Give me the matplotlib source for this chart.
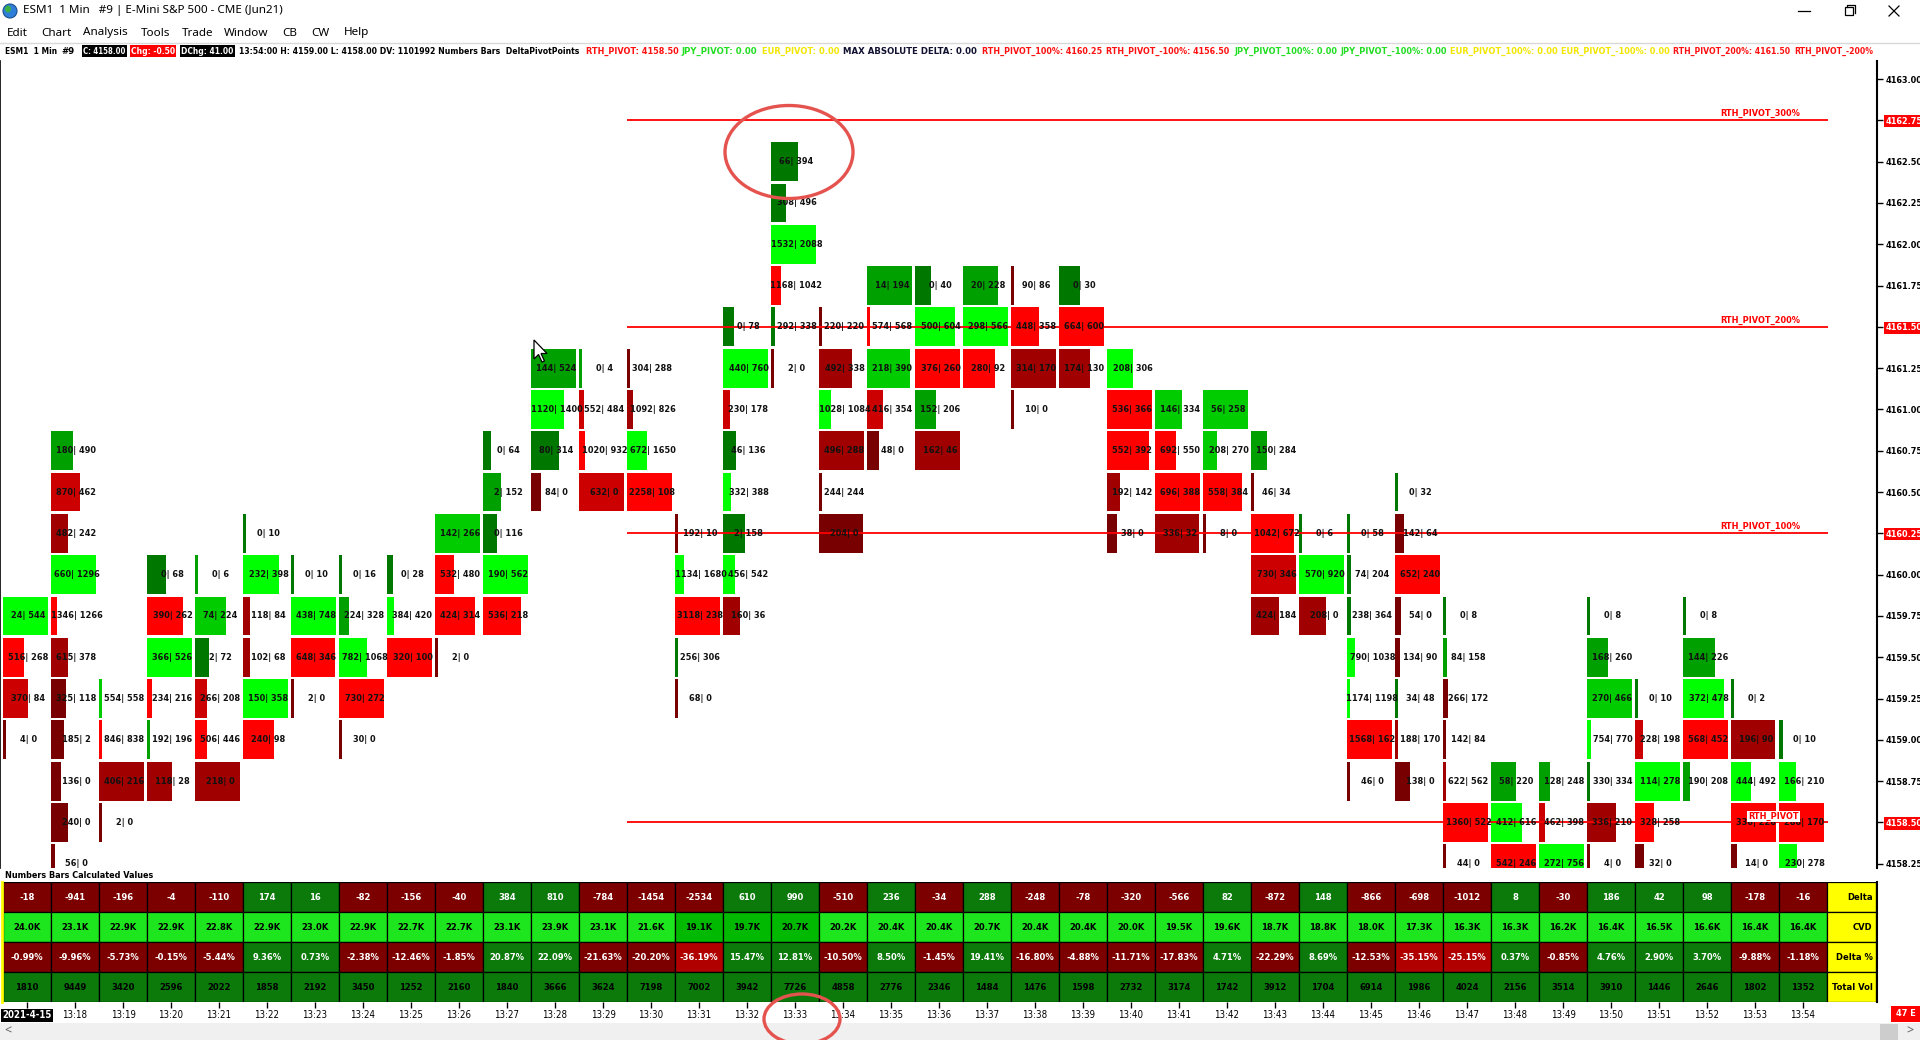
import matplotlib
matplotlib.use("Agg")
import matplotlib.pyplot as plt
from matplotlib.patches import Rectangle, Ellipse, Circle, Polygon
from matplotlib import font_manager

# ---------------- data ----------------
times = ['2021-4-15', '13:18', '13:19', '13:20', '13:21', '13:22', '13:23', '13:24', '13:25',
         '13:26', '13:27', '13:28', '13:29', '13:30', '13:31', '13:32', '13:33', '13:34',
         '13:35', '13:36', '13:37', '13:38', '13:39', '13:40', '13:41', '13:42', '13:43',
         '13:44', '13:45', '13:46', '13:47', '13:48', '13:49', '13:50', '13:51', '13:52',
         '13:53', '13:54']

# footprint cells per minute: (price, bid, ask, shade level 1=bright .. 4=dark)
m1317 = [(4159.75, 24, 544, 1), (4159.50, 516, 268, 1), (4159.25, 370, 84, 2), (4159.00, 4, 0, 4)]
m1318 = [(4160.75, 180, 490, 3), (4160.50, 870, 462, 2), (4160.25, 482, 242, 3), (4160.00, 660, 1296, 1),
         (4159.75, 1346, 1266, 1), (4159.50, 615, 378, 3), (4159.25, 325, 118, 4), (4159.00, 185, 2, 4),
         (4158.75, 136, 0, 4), (4158.50, 240, 0, 4), (4158.25, 56, 0, 4)]
m1319 = [(4159.25, 554, 558, 2), (4159.00, 846, 838, 1), (4158.75, 406, 216, 3), (4158.50, 2, 0, 4)]
m1320 = [(4160.00, 0, 68, 4), (4159.75, 390, 262, 1), (4159.50, 366, 526, 1), (4159.25, 234, 216, 1),
         (4159.00, 192, 196, 3), (4158.75, 118, 28, 3)]
m1321 = [(4160.00, 0, 6, 3), (4159.75, 74, 224, 2), (4159.50, 2, 72, 4), (4159.25, 266, 208, 2),
         (4159.00, 506, 446, 1), (4158.75, 218, 0, 3)]
m1322 = [(4160.25, 0, 10, 4), (4160.00, 232, 398, 1), (4159.75, 118, 84, 3), (4159.50, 102, 68, 3),
         (4159.25, 150, 358, 1), (4159.00, 240, 98, 1)]
m1323 = [(4160.00, 0, 10, 4), (4159.75, 438, 748, 1), (4159.50, 648, 346, 1), (4159.25, 2, 0, 4)]
m1324 = [(4160.00, 0, 16, 4), (4159.75, 224, 328, 3), (4159.50, 782, 1068, 1), (4159.25, 730, 272, 1),
         (4159.00, 30, 0, 4)]
m1325 = [(4160.00, 0, 28, 4), (4159.75, 384, 420, 1), (4159.50, 320, 100, 1)]
m1326 = [(4160.25, 142, 266, 2), (4160.00, 532, 480, 1), (4159.75, 424, 314, 1), (4159.50, 2, 0, 4)]
m1327 = [(4160.75, 0, 64, 4), (4160.50, 2, 152, 3), (4160.25, 0, 116, 4), (4160.00, 190, 562, 1),
         (4159.75, 536, 218, 1)]
m1328 = [(4161.25, 144, 524, 3), (4161.00, 1120, 1400, 1), (4160.75, 80, 314, 4), (4160.50, 84, 0, 4)]
m1329 = [(4161.25, 0, 4, 3), (4161.00, 552, 484, 2), (4160.75, 1020, 932, 1), (4160.50, 632, 0, 2)]
m1330 = [(4161.25, 304, 288, 4), (4161.00, 1092, 826, 3), (4160.75, 672, 1650, 1), (4160.50, 2258, 108, 1)]
m1331 = [(4160.25, 192, 10, 4), (4160.00, 1134, 1680, 1), (4159.75, 3118, 238, 1), (4159.50, 256, 306, 4),
         (4159.25, 68, 0, 4)]
m1332 = [(4161.50, 0, 78, 4), (4161.25, 440, 760, 1), (4161.00, 230, 178, 2), (4160.75, 46, 136, 4),
         (4160.50, 332, 388, 1), (4160.25, 2, 158, 4), (4160.00, 456, 542, 1), (4159.75, 160, 36, 3)]
m1333 = [(4162.50, 66, 394, 4), (4162.25, 308, 496, 4), (4162.00, 1532, 2088, 1), (4161.75, 1168, 1042, 1),
         (4161.50, 292, 338, 4), (4161.25, 2, 0, 4)]
m1334 = [(4161.50, 220, 220, 4), (4161.25, 492, 338, 3), (4161.00, 1028, 1084, 1), (4160.75, 496, 288, 3),
         (4160.50, 244, 244, 4), (4160.25, 204, 0, 4)]
m1335 = [(4161.75, 14, 194, 3), (4161.50, 574, 568, 1), (4161.25, 218, 390, 2), (4161.00, 416, 354, 2),
         (4160.75, 48, 0, 4)]
m1336 = [(4161.75, 0, 40, 4), (4161.50, 500, 604, 1), (4161.25, 376, 260, 1), (4161.00, 152, 206, 3),
         (4160.75, 162, 46, 3)]
m1337 = [(4161.75, 20, 228, 3), (4161.50, 298, 566, 1), (4161.25, 280, 92, 1)]
m1338 = [(4161.75, 90, 86, 4), (4161.50, 448, 358, 1), (4161.25, 314, 170, 3), (4161.00, 10, 0, 4)]
m1339 = [(4161.75, 0, 30, 4), (4161.50, 664, 600, 1), (4161.25, 174, 130, 3)]
m1340 = [(4161.25, 208, 306, 1), (4161.00, 536, 366, 1), (4160.75, 552, 392, 1), (4160.50, 192, 142, 3),
         (4160.25, 38, 0, 4)]
m1341 = [(4161.00, 146, 334, 2), (4160.75, 692, 550, 1), (4160.50, 696, 388, 1), (4160.25, 336, 32, 3)]
m1342 = [(4161.00, 56, 258, 2), (4160.75, 208, 270, 2), (4160.50, 558, 384, 1), (4160.25, 8, 0, 4)]
m1343 = [(4160.75, 150, 284, 3), (4160.50, 46, 34, 4), (4160.25, 1042, 672, 1), (4160.00, 730, 346, 2),
         (4159.75, 424, 184, 3)]
m1344 = [(4160.25, 0, 6, 4), (4160.00, 570, 920, 1), (4159.75, 208, 0, 3)]
m1345 = [(4160.25, 0, 58, 4), (4160.00, 74, 204, 4), (4159.75, 238, 364, 4), (4159.50, 790, 1038, 1),
         (4159.25, 1174, 1198, 1), (4159.00, 1568, 162, 1), (4158.75, 46, 0, 4)]
m1346 = [(4160.50, 0, 32, 4), (4160.25, 142, 64, 4), (4160.00, 652, 240, 1), (4159.75, 54, 0, 4),
         (4159.50, 134, 90, 4), (4159.25, 34, 48, 4), (4159.00, 188, 170, 3), (4158.75, 138, 0, 4)]
m1347 = [(4159.75, 0, 8, 4), (4159.50, 84, 158, 3), (4159.25, 266, 172, 4), (4159.00, 142, 84, 4),
         (4158.75, 622, 562, 3), (4158.50, 1360, 522, 1), (4158.25, 44, 0, 4)]
m1348 = [(4158.75, 58, 220, 3), (4158.50, 412, 616, 1), (4158.25, 542, 246, 1)]
m1349 = [(4158.75, 128, 248, 3), (4158.50, 462, 398, 2), (4158.25, 272, 756, 1)]
m1350 = [(4159.75, 0, 8, 4), (4159.50, 168, 260, 3), (4159.25, 270, 466, 2), (4159.00, 754, 770, 1),
         (4158.75, 330, 334, 4), (4158.50, 336, 210, 3), (4158.25, 4, 0, 4)]
m1351 = [(4159.25, 0, 10, 4), (4159.00, 228, 198, 2), (4158.75, 114, 278, 1), (4158.50, 328, 258, 1),
         (4158.25, 32, 0, 4)]
m1352 = [(4159.75, 0, 8, 4), (4159.50, 144, 226, 3), (4159.25, 372, 478, 1), (4159.00, 568, 452, 1),
         (4158.75, 190, 208, 3)]
m1353 = [(4159.25, 0, 2, 4), (4159.00, 196, 90, 3), (4158.75, 444, 492, 1), (4158.50, 336, 228, 1),
         (4158.25, 14, 0, 4)]
m1354 = [(4159.00, 0, 10, 4), (4158.75, 166, 210, 1), (4158.50, 288, 170, 1), (4158.25, 230, 278, 1)]

footprint = [m1317, m1318, m1319, m1320, m1321, m1322, m1323, m1324, m1325, m1326, m1327, m1328,
             m1329, m1330, m1331, m1332, m1333, m1334, m1335, m1336, m1337, m1338, m1339, m1340,
             m1341, m1342, m1343, m1344, m1345, m1346, m1347, m1348, m1349, m1350, m1351, m1352,
             m1353, m1354]

delta = [-18, -941, -196, -4, -110, 174, 16, -82, -156, -40, 384, 810, -784, -1454, -2534, 610, 990,
         -510, 236, -34, 288, -248, -78, -320, -566, 82, -872, 148, -866, -698, -1012, 8, -30, 186,
         42, 98, -178, -16]
cvd_k = [24.0, 23.1, 22.9, 22.9, 22.8, 22.9, 23.0, 22.9, 22.7, 22.7, 23.1, 23.9, 23.1, 21.6, 19.1,
         19.7, 20.7, 20.2, 20.4, 20.4, 20.7, 20.4, 20.4, 20.0, 19.5, 19.6, 18.7, 18.8, 18.0, 17.3,
         16.3, 16.3, 16.2, 16.4, 16.5, 16.6, 16.4, 16.4]
cvd_dark_cols = [14, 15, 16]
delta_pct = [-0.99, -9.96, -5.73, -0.15, -5.44, 9.36, 0.73, -2.38, -12.46, -1.85, 20.87, 22.09,
             -21.63, -20.20, -36.19, 15.47, 12.81, -10.50, 8.50, -1.45, 19.41, -16.80, -4.88,
             -11.71, -17.83, 4.71, -22.29, 8.69, -12.53, -35.15, -25.15, 0.37, -0.85, 4.76, 2.90,
             3.70, -9.88, -1.18]
total_vol = [1810, 9449, 3420, 2596, 2022, 1858, 2192, 3450, 1252, 2160, 1840, 3666, 3624, 7198,
             7002, 3942, 7726, 4858, 2776, 2346, 1484, 1476, 1598, 2732, 3174, 1742, 3912, 1704,
             6914, 1986, 4024, 2156, 3514, 3910, 1446, 2646, 1802, 1352]
row_names = ['Delta', 'CVD', 'Delta %', 'Total Vol']

price_levels = [4158.25, 4158.50, 4158.75, 4159.00, 4159.25, 4159.50, 4159.75, 4160.00, 4160.25,
                4160.50, 4160.75, 4161.00, 4161.25, 4161.50, 4161.75, 4162.00, 4162.25, 4162.50,
                4162.75, 4163.00]
pivot_names = ['RTH_PIVOT_300%', 'RTH_PIVOT_200%', 'RTH_PIVOT_100%', 'RTH_PIVOT']
pivot_values = [4162.75, 4161.50, 4160.25, 4158.50]
pivot_first_col = 13

# ---------------- styling ----------------
W, H, DPI = 1920, 1040, 100
names = {f.name for f in font_manager.fontManager.ttflist}
if 'Liberation Sans Narrow' in names:
    NARROW, FS, STRETCH = 'Liberation Sans Narrow', 1.0, 'normal'
elif 'DejaVu Sans Condensed' in names:
    NARROW, FS, STRETCH = 'DejaVu Sans Condensed', 0.8, 'condensed'
else:
    NARROW, FS, STRETCH = 'DejaVu Sans', 0.72, 'condensed'
UI = 'Noto Sans' if 'Noto Sans' in names else 'DejaVu Sans'

GREENS = {1: '#00FF00', 2: '#00CC00', 3: '#00A000', 4: '#007800'}
REDS = {1: '#FF0000', 2: '#CC0000', 3: '#A00000', 4: '#780000'}
PIVOT_RED = '#FF0000'

fig = plt.figure(figsize=(W / DPI, H / DPI), dpi=DPI, facecolor='white')


def px_axes(x0, y0, x1, y1, **kw):
    return fig.add_axes([x0 / W, 1 - y1 / H, (x1 - x0) / W, (y1 - y0) / H], **kw)


# column/price geometry of the screen
COLW, X0 = 48.0, 27.0       # px per column, px centre of first column
ROWH, Y0 = 41.3, 79.0       # px per 0.25 tick, px of 4163.00
TOP_PRICE = 4163.00


def col_at(xpx):
    return (xpx - X0) / COLW


def price_at(ypx):
    return TOP_PRICE - (ypx - Y0) / ROWH * 0.25


# ---------------- footprint panel ----------------
fp = px_axes(0, 61, 1877, 868)
fp.set_facecolor('white')
fp.set_xlim(col_at(0), col_at(1877))
fp.set_ylim(price_at(868), price_at(61))
cell_h = 0.25 * (ROWH - 2.5) / ROWH
full_w = 45.0 / COLW
for i, col in enumerate(footprint):
    maxd = max(abs(a - b) for _, b, a, _ in col)
    for price, b, a, s in col:
        d = a - b
        w = max(0.065, abs(d) / maxd if maxd else 0) * full_w
        colr = GREENS[s] if d > 0 else REDS[s]
        fp.add_patch(Rectangle((i - 0.5, price - cell_h / 2), w, cell_h, facecolor=colr,
                               edgecolor='none', zorder=2))
        fp.text(i + 0.03, price, f'{b}| {a}', ha='center', va='center', fontsize=9.2 * FS,
                family=NARROW, fontstretch=STRETCH, fontweight='bold', color='#111111',
                zorder=4, clip_on=True)

# pivot lines
line_end = col_at(1828)
for name, val in zip(pivot_names, pivot_values):
    fp.hlines(val, pivot_first_col - 0.5, line_end, color=PIVOT_RED, lw=1.3, zorder=3)
    if name == 'RTH_PIVOT':
        fp.text(36.38, val + 0.035, name, ha='center', va='center', fontsize=9.2 * FS,
                family=NARROW, fontstretch=STRETCH, fontweight='bold', color=PIVOT_RED, zorder=5,
                bbox=dict(boxstyle='square,pad=0.12', fc='white', ec='none'))
    else:
        fp.text(col_at(1800), val + 0.012, name, ha='right', va='bottom', fontsize=9.2 * FS,
                family=NARROW, fontstretch=STRETCH, fontweight='bold', color=PIVOT_RED, zorder=5)

# price axis on the right
fp.yaxis.tick_right()
fp.set_yticks(price_levels)
fp.set_yticklabels([f'{p:.2f}' for p in price_levels])
fp.tick_params(axis='y', length=4, width=1, pad=2, colors='black')
fp.tick_params(axis='x', bottom=False, labelbottom=False)
for lab, p in zip(fp.get_yticklabels(), price_levels):
    lab.set_fontfamily(NARROW)
    lab.set_fontstretch(STRETCH)
    lab.set_fontweight('bold')
    lab.set_fontsize(9.0 * FS)
    if p in pivot_values:
        lab.set_color('white')
        lab.set_bbox(dict(boxstyle='square,pad=0.18', fc='#FF0000', ec='none'))
for side in ('top', 'bottom'):
    fp.spines[side].set_visible(False)
fp.spines['left'].set_color('black')
fp.spines['left'].set_linewidth(1.2)
fp.spines['right'].set_color('black')
fp.spines['right'].set_linewidth(1.5)

# ---------------- calculated values table ----------------
tb = px_axes(0, 882, 1877, 1002)
tb.set_facecolor('white')
tb.set_xlim(col_at(0), col_at(1877))
tb.set_ylim(4, 0)
POS, NEG = '#0B7A0B', '#7D0000'
for i in range(len(times)):
    vals = [
        (f'{delta[i]}', POS if delta[i] > 0 else NEG, 'white'),
        (f'{cvd_k[i]:.1f}K', '#00B900' if i in cvd_dark_cols else '#1EE61E', 'black'),
        (f'{delta_pct[i]:.2f}%', POS if delta_pct[i] > 0 else ('#B00000' if delta_pct[i] <= -25 else NEG), 'white'),
        (f'{total_vol[i]}', POS, 'black'),
    ]
    for r, (txt, fc, tc) in enumerate(vals):
        tb.add_patch(Rectangle((i - 0.5, r), 1, 1, facecolor=fc, edgecolor='black', lw=0.9))
        tb.text(i, r + 0.52, txt, ha='center', va='center', fontsize=9.4 * FS, family=NARROW,
                fontstretch=STRETCH, fontweight='bold', color=tc)
lab_x0, lab_w = len(times) - 0.5, 49.0 / COLW
for r, nm in enumerate(row_names):
    tb.add_patch(Rectangle((lab_x0, r), lab_w, 1, facecolor='#FFFF00', edgecolor='black', lw=0.9))
    tb.text(lab_x0 + lab_w - 0.07, r + 0.52, nm, ha='right', va='center', fontsize=9.4 * FS,
            family=NARROW, fontstretch=STRETCH, fontweight='bold', color='black')
tb.set_xticks(range(len(times)))
tb.set_xticklabels(times)
tb.set_yticks([])
tb.tick_params(axis='x', length=4, width=1, pad=2, colors='black', direction='out')
for k, lab in enumerate(tb.get_xticklabels()):
    lab.set_fontfamily(NARROW)
    lab.set_fontstretch(STRETCH)
    lab.set_fontsize(9.6 * FS)
    if k == 0:
        lab.set_color('white')
        lab.set_fontweight('bold')
        lab.set_bbox(dict(boxstyle='square,pad=0.15', fc='black', ec='none'))
for side in ('top', 'bottom', 'left'):
    tb.spines[side].set_visible(False)
tb.spines['right'].set_color('black')
tb.spines['right'].set_linewidth(1.5)

# ---------------- info line ----------------
info = px_axes(0, 42, 1877, 61)
info.set_xlim(0, 1877)
info.set_ylim(61, 42)
info.axis('off')
BLK, RED, GRN, YEL, NAVY = '#000000', '#FF1010', '#22DD22', '#F2E600', '#101030'
segments = [
    (5, 'ESM1  1 Min', BLK, None), (61, '#9', BLK, None),
    (83, 'C: 4158.00', 'white', 'black'), (131, 'Chg: -0.50', 'white', '#FF0000'),
    (181, 'DChg: 41.00', 'white', 'black'),
    (239, '13:54:00 H: 4159.00 L: 4158.00 DV: 1101992 Numbers Bars  DeltaPivotPoints', BLK, None),
    (586, 'RTH_PIVOT: 4158.50', RED, None), (682, 'JPY_PIVOT: 0.00', GRN, None),
    (762, 'EUR_PIVOT: 0.00', YEL, None), (843, 'MAX ABSOLUTE DELTA: 0.00', NAVY, None),
    (982, 'RTH_PIVOT_100%: 4160.25', RED, None), (1106, 'RTH_PIVOT_-100%: 4156.50', RED, None),
    (1234, 'JPY_PIVOT_100%: 0.00', GRN, None), (1340, 'JPY_PIVOT_-100%: 0.00', GRN, None),
    (1450, 'EUR_PIVOT_100%: 0.00', YEL, None), (1561, 'EUR_PIVOT_-100%: 0.00', YEL, None),
    (1673, 'RTH_PIVOT_200%: 4161.50', RED, None), (1794, 'RTH_PIVOT_-200%', RED, None),
]
info_texts = []
for x, txt, c, box in segments:
    kw = {}
    if box:
        kw['bbox'] = dict(boxstyle='square,pad=0.15', fc=box, ec='none')
    info_texts.append(info.text(x, 51, txt, ha='left', va='center', fontsize=9.5 * FS,
                                family=NARROW, fontstretch=STRETCH, fontweight='bold', color=c,
                                clip_on=True, **kw))

# ---------------- window chrome overlay ----------------
ov = fig.add_axes([0, 0, 1, 1], zorder=10)
ov.set_xlim(0, W)
ov.set_ylim(H, 0)
ov.axis('off')
ov.patch.set_alpha(0)

# title bar
ov.add_patch(Circle((10, 11), 7, facecolor='#2F7FD8', edgecolor='#1B4F8F', lw=0.8))
ov.add_patch(Ellipse((8, 9), 6, 7, facecolor='#3CB043', edgecolor='none'))
ov.text(23, 11, 'ESM1  1 Min   #9 | E-Mini S&P 500 - CME (Jun21)', ha='left', va='center',
        fontsize=8.4, family=UI, color='black')
ov.plot([1798, 1810], [11, 11], color='black', lw=0.9)
ov.add_patch(Rectangle((1845, 7), 8, 8, fill=False, ec='black', lw=0.9))
ov.plot([1847, 1847, 1855, 1855], [7, 5, 5, 13], color='black', lw=0.9)
ov.plot([1889, 1899], [6, 16], color='black', lw=0.9)
ov.plot([1889, 1899], [16, 6], color='black', lw=0.9)

# menu bar
for x, m in [(7, 'Edit'), (41, 'Chart'), (83, 'Analysis'), (141, 'Tools'), (182, 'Trade'),
             (224, 'Window'), (282, 'CB'), (311, 'CW'), (344, 'Help')]:
    ov.text(x, 33, m, ha='left', va='center', fontsize=8.4, family=UI, color='black')
ov.plot([0, W], [42.5, 42.5], color='#D8D8D8', lw=1)

# cover bottom of price axis under the table panel
ov.add_patch(Rectangle((1879, 869), 41, 134, facecolor='white', edgecolor='none'))
ov.text(5, 875, 'Numbers Bars Calculated Values', ha='left', va='center', fontsize=9.0 * FS,
        family=NARROW, fontstretch=STRETCH, fontweight='bold', color='black')
ov.plot([1.5, 1.5], [882, 1002], color='#FFFF00', lw=2)

# scrollbar
ov.add_patch(Rectangle((0, 1023), W, 17, facecolor='#F0F0F0', edgecolor='none'))
ov.add_patch(Rectangle((1880, 1024), 18, 16, facecolor='#CDCDCD', edgecolor='none'))
ov.text(8, 1031, '<', ha='center', va='center', fontsize=9, family=UI, color='#606060')
ov.text(1910, 1031, '>', ha='center', va='center', fontsize=9, family=UI, color='#606060')

# "47 E" countdown box
ov.add_patch(Rectangle((1891, 1006), 29, 16, facecolor='#FF0000', edgecolor='none'))
ov.text(1906, 1014, '47 E', ha='center', va='center', fontsize=9.0 * FS, family=NARROW,
        fontstretch=STRETCH, fontweight='bold', color='white')

# mouse pointer
cx, cy = 534, 340
ov.add_patch(Polygon([(cx, cy), (cx, cy + 19), (cx + 4.5, cy + 14.5), (cx + 8, cy + 22),
                      (cx + 10.5, cy + 21), (cx + 7, cy + 13.5), (cx + 13, cy + 13.5)],
                     closed=True, facecolor='white', edgecolor='black', lw=0.9))

# red hand-drawn highlight circles
ov.add_patch(Ellipse((789, 152), 128, 93, fill=False, edgecolor='#E5534F', lw=2.4))
ov.add_patch(Ellipse((802, 1019), 76, 50, fill=False, edgecolor='#E5534F', lw=2.4))

# shrink info-line segments so each fits into the room it has on screen
fig.canvas.draw()
rend = fig.canvas.get_renderer()
starts = [s[0] for s in segments] + [1877]
for k, t in enumerate(info_texts):
    room = starts[k + 1] - starts[k] - (6 if segments[k][3] else 4)
    wpx = t.get_window_extent(rend).width
    if wpx > room:
        t.set_fontsize(t.get_fontsize() * room / wpx)

fig.savefig('out.png', dpi=DPI, facecolor='white')
